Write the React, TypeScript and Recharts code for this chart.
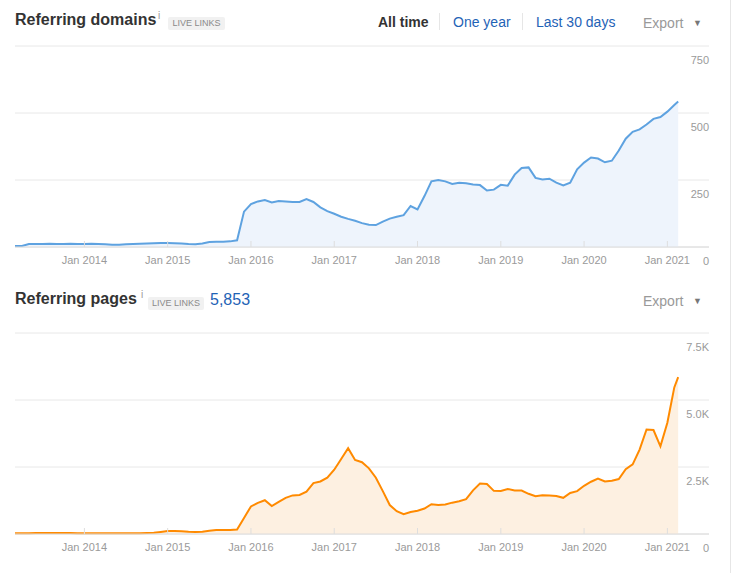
import { AreaChart, Area, XAxis, YAxis, CartesianGrid } from "recharts";

// one sample per month, last entry is the final data day
const dates = [
  "2013-03", "2013-04", "2013-05", "2013-06", "2013-07", "2013-08", "2013-09", "2013-10", "2013-11", "2013-12",
  "2014-01", "2014-02", "2014-03", "2014-04", "2014-05", "2014-06", "2014-07", "2014-08", "2014-09", "2014-10", "2014-11", "2014-12",
  "2015-01", "2015-02", "2015-03", "2015-04", "2015-05", "2015-06", "2015-07", "2015-08", "2015-09", "2015-10", "2015-11", "2015-12",
  "2016-01", "2016-02", "2016-03", "2016-04", "2016-05", "2016-06", "2016-07", "2016-08", "2016-09", "2016-10", "2016-11", "2016-12",
  "2017-01", "2017-02", "2017-03", "2017-04", "2017-05", "2017-06", "2017-07", "2017-08", "2017-09", "2017-10", "2017-11", "2017-12",
  "2018-01", "2018-02", "2018-03", "2018-04", "2018-05", "2018-06", "2018-07", "2018-08", "2018-09", "2018-10", "2018-11", "2018-12",
  "2019-01", "2019-02", "2019-03", "2019-04", "2019-05", "2019-06", "2019-07", "2019-08", "2019-09", "2019-10", "2019-11", "2019-12",
  "2020-01", "2020-02", "2020-03", "2020-04", "2020-05", "2020-06", "2020-07", "2020-08", "2020-09", "2020-10", "2020-11", "2020-12",
  "2021-01", "2021-02", "2021-02-18",
];

const referringDomains = [
  4, 4, 11, 11, 11, 12, 11, 11, 12, 11,
  11, 12, 11, 10, 8, 8, 10, 11, 12, 13, 14, 15,
  15, 14, 13, 11, 10, 13, 19, 20, 20, 21, 25, 132,
  160, 170, 175, 166, 172, 170, 168, 168, 179, 168, 148, 134,
  124, 113, 105, 98, 89, 83, 82, 95, 106, 113, 119, 153,
  140, 190, 245, 250, 245, 235, 240, 238, 233, 231, 211, 214,
  232, 229, 270, 295, 297, 258, 252, 255, 240, 230, 240, 290,
  315, 334, 330, 316, 322, 360, 404, 430, 439, 457, 478, 485,
  505, 530, 543,
];

const referringPages = [
  30, 30, 30, 35, 35, 35, 35, 35, 35, 30,
  30, 30, 30, 30, 25, 25, 25, 30, 30, 35, 45, 75,
  110, 110, 105, 80, 75, 80, 120, 150, 150, 150, 170, 600,
  1030, 1160, 1260, 1040, 1200, 1350, 1440, 1455, 1580, 1900, 1960, 2100,
  2400, 2800, 3200, 2760, 2680, 2450, 2100, 1600, 1080, 850, 740, 820,
  870, 950, 1110, 1085, 1100, 1170, 1220, 1300, 1630, 1880, 1866, 1610,
  1605, 1680, 1620, 1620, 1500, 1410, 1450, 1440, 1420, 1350, 1530, 1600,
  1800, 1950, 2070, 1960, 1990, 2050, 2420, 2600, 3150, 3900, 3880, 3270,
  4150, 5470, 5853,
];

const yearTicks = [2014, 2015, 2016, 2017, 2018, 2019, 2020, 2021];
const domainTicks = [0, 250, 500, 750];
const pageTicks = [0, 2500, 5000, 7500];

const toYear = (d: string) => {
  const [y, m, day] = d.split("-").map(Number);
  return y + (m - 1) / 12 + (day ? (day - 1) / 365 : 0);
};

const data = dates.map((d, i) => ({
  t: toYear(d),
  domains: referringDomains[i],
  pages: referringPages[i],
}));

const FONT = '"Liberation Sans", Arial, Helvetica, sans-serif';
const X_DOMAIN: [number, number] = [toYear(dates[0]), 2021.5];
const PLOT_RIGHT = 709;

function XTick({ x, y, payload }: any) {
  return (
    <g>
      <line x1={x} x2={x} y1={y - 6} y2={y} stroke="#dedede" />
      <text x={x} y={y + 17} textAnchor="middle" fill="#9a9a9a" fontSize={11} fontFamily={FONT}>
        Jan {payload.value}
      </text>
    </g>
  );
}

function YTick({ y, payload, fmt }: any) {
  return (
    <text x={PLOT_RIGHT} y={y + 18} textAnchor="end" fill="#9a9a9a" fontSize={11} fontFamily={FONT}>
      {fmt(payload.value)}
    </text>
  );
}

const fmtDomains = (v: number) => String(v);
const fmtPages = (v: number) => (v === 0 ? "0" : (v / 1000).toFixed(1) + "K");

function Txt({ left, top, size = 14, color = "#333", bold = false, children }: any) {
  return (
    <div
      style={{
        position: "absolute",
        left,
        top,
        fontSize: size,
        color,
        fontWeight: bold ? 700 : 400,
        fontFamily: FONT,
        whiteSpace: "nowrap",
      }}
    >
      {children}
    </div>
  );
}

function Badge({ left, top, width }: any) {
  return (
    <div
      style={{
        position: "absolute",
        left,
        top,
        width,
        height: 13,
        background: "#f1f1f1",
        color: "#8a8a8a",
        fontSize: 9,
        lineHeight: "13px",
        textAlign: "center",
        fontFamily: FONT,
        borderRadius: 2,
      }}
    >
      LIVE LINKS
    </div>
  );
}

function Panel({ top, dataKey, stroke, fill, ticks, fmt, marginTop, marginBottom }: any) {
  return (
    <div style={{ position: "absolute", left: 0, top }}>
      <AreaChart
        width={733}
        height={280}
        data={data}
        margin={{ top: marginTop, right: 23, bottom: marginBottom, left: 15 }}
      >
        <CartesianGrid vertical={false} stroke="#e8e8e8" />
        <XAxis
          dataKey="t"
          type="number"
          domain={X_DOMAIN}
          ticks={yearTicks}
          interval={0}
          height={20}
          tickSize={0}
          tickMargin={0}
          tickLine={false}
          axisLine={{ stroke: "#dcdcdc" }}
          tick={<XTick />}
        />
        <YAxis
          orientation="right"
          width={1}
          domain={[ticks[0], ticks[ticks.length - 1]]}
          ticks={ticks}
          interval={0}
          tickSize={0}
          tickMargin={0}
          tickLine={false}
          axisLine={false}
          tick={<YTick fmt={fmt} />}
        />
        <Area
          type="linear"
          dataKey={dataKey}
          stroke={stroke}
          strokeWidth={2}
          fill={fill}
          fillOpacity={1}
          dot={false}
          activeDot={false}
          isAnimationActive={false}
        />
      </AreaChart>
    </div>
  );
}

export default function App() {
  return (
    <div style={{ position: "absolute", left: 0, top: 0, width: 733, height: 573, background: "#fff" }}>
      <Panel
        top={0}
        dataKey="domains"
        stroke="#5ea2e0"
        fill="#eef4fc"
        ticks={domainTicks}
        fmt={fmtDomains}
        marginTop={46}
        marginBottom={13}
      />
      <Panel
        top={290}
        dataKey="pages"
        stroke="#ff8a00"
        fill="#fdf0e1"
        ticks={pageTicks}
        fmt={fmtPages}
        marginTop={43}
        marginBottom={16}
      />

      <div style={{ position: "absolute", left: 730, top: 0, width: 1, height: 573, background: "#e6e6e6" }} />

      {/* top header */}
      <Txt left={15} top={11} size={16} bold>Referring domains</Txt>
      <Txt left={158} top={10} size={10} color="#999">i</Txt>
      <Badge left={168} top={17} width={57} />
      <Txt left={378} top={14} bold>All time</Txt>
      <div style={{ position: "absolute", left: 439, top: 13, width: 1, height: 17, background: "#e6e6e6" }} />
      <Txt left={453} top={14} color="#1f63b6">One year</Txt>
      <div style={{ position: "absolute", left: 522, top: 13, width: 1, height: 17, background: "#e6e6e6" }} />
      <Txt left={536} top={14} color="#1f63b6">Last 30 days</Txt>
      <Txt left={643} top={15} color="#999">Export</Txt>
      <Txt left={693} top={18} size={9} color="#777">▼</Txt>

      {/* bottom header */}
      <Txt left={15} top={290} size={16} bold>Referring pages</Txt>
      <Txt left={141} top={289} size={10} color="#999">i</Txt>
      <Badge left={148} top={297} width={56} />
      <Txt left={210} top={291} size={16} color="#1f63b6">5,853</Txt>
      <Txt left={643} top={293} color="#999">Export</Txt>
      <Txt left={693} top={296} size={9} color="#777">▼</Txt>
    </div>
  );
}
